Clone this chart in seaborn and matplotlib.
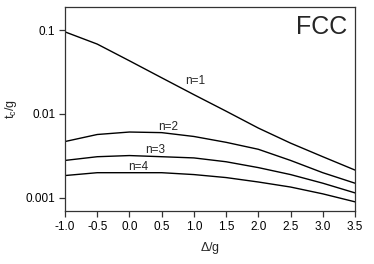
import numpy as np
import pandas as pd
import seaborn as sns
import matplotlib
matplotlib.use("Agg")
import matplotlib.pyplot as plt

delta = [-1.0, -0.5, 0.0, 0.5, 1.0, 1.5, 2.0, 2.5, 3.0, 3.5]
n1 = [0.095, 0.068, 0.043, 0.027, 0.017, 0.0108, 0.0068, 0.0045, 0.0031, 0.00215]
n2 = [0.0047, 0.0057, 0.0061, 0.0060, 0.0054, 0.0046, 0.0038, 0.0028, 0.0020, 0.0015]
n3 = [0.0028, 0.0031, 0.0032, 0.0031, 0.0030, 0.0027, 0.0023, 0.0019, 0.0015, 0.00115]
n4 = [0.00185, 0.0020, 0.0020, 0.0020, 0.0019, 0.00175, 0.00155, 0.00135, 0.00112, 0.0009]
series_names = ["n=1", "n=2", "n=3", "n=4"]
label_pos = [(0.87, 0.0250), (0.44, 0.0070), (0.24, 0.0037), (-0.02, 0.00234)]
xticks = [-1.0, -0.5, 0.0, 0.5, 1.0, 1.5, 2.0, 2.5, 3.0, 3.5]
yticks = [0.001, 0.01, 0.1]
ytick_labels = ["0.001", "0.01", "0.1"]

sns.set_style("white")
plt.rcParams['font.family'] = ['Liberation Sans', 'DejaVu Sans']
plt.rcParams['mathtext.fontset'] = 'custom'
plt.rcParams['mathtext.rm'] = 'Liberation Sans'

df = pd.DataFrame({"delta": delta * 4,
                   "tc": n1 + n2 + n3 + n4,
                   "n": sum([[s] * len(delta) for s in series_names], [])})

fig = plt.figure(figsize=(3.74, 2.64), dpi=100)
ax = fig.add_axes([65/374, 1-211/264, 290/374, 204/264])
sns.lineplot(data=df, x="delta", y="tc", units="n", estimator=None,
             color="black", linewidth=1.0, ax=ax, legend=False)
ax.set_yscale("log")
ax.set_xlim(-1.0, 3.5)
ax.set_ylim(10**-3.155, 10**-0.726)
ax.set_xticks(xticks)
ax.set_xticklabels([f"{v:.1f}" for v in xticks])
ax.set_yticks(yticks)
ax.set_yticklabels(ytick_labels)
ax.minorticks_off()
ax.tick_params(axis="both", direction="out", length=4, width=0.9, labelsize=8.5,
               colors="#333333", labelcolor="black", pad=3, left=True, bottom=True)
for sp in ax.spines.values():
    sp.set_color("#333333")
    sp.set_linewidth(0.9)
for name, (x, y) in zip(series_names, label_pos):
    ax.text(x, y, name, fontsize=8.5, ha="left", va="center")
ax.text(0.975, 0.96, "FCC", transform=ax.transAxes, fontsize=18, ha="right", va="top")
ax.set_xlabel(r"$\Delta$/g", fontsize=9, labelpad=5)
ax.set_ylabel(r"$\mathregular{t_c}$/g", fontsize=9, labelpad=5)
fig.savefig("out.png", dpi=100)
